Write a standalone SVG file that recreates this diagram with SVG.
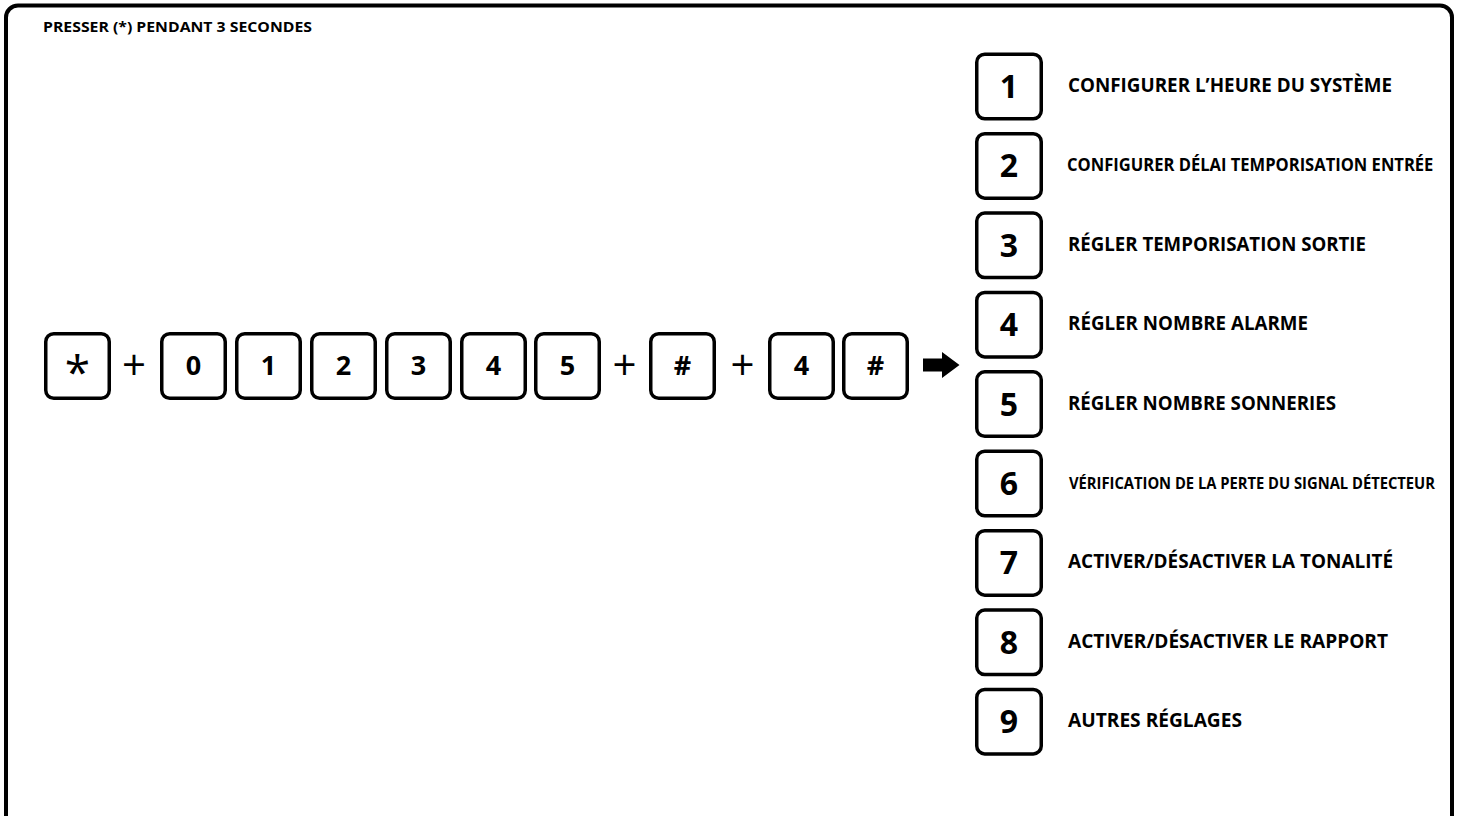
<svg xmlns="http://www.w3.org/2000/svg" width="1460" height="816" viewBox="0 0 1460 816">
<style>
.key{fill:#fff;stroke:#000;stroke-width:3.5}
.kt{font-family:"Open Sans","Liberation Sans",sans-serif;font-weight:700;font-size:27px;text-anchor:middle;fill:#000}
.kr{font-family:"Open Sans","Liberation Sans",sans-serif;font-weight:700;font-size:32px;text-anchor:middle;fill:#000}
.lb{font-family:"Open Sans","Liberation Sans",sans-serif;font-weight:700;font-size:19px;fill:#000}
.plus{font-family:"Open Sans","Liberation Sans",sans-serif;font-weight:400;font-size:42px;text-anchor:middle;fill:#000}
.title{font-family:"Open Sans","Liberation Sans",sans-serif;font-weight:700;font-size:15px;fill:#000}
</style>
<rect x="0" y="0" width="1460" height="816" fill="#fff"/>
<rect id="frame" x="6" y="5.5" width="1446" height="830" rx="12" fill="none" stroke="#000" stroke-width="4"/>
<text id="title" class="title" x="43" y="32" textLength="269" lengthAdjust="spacingAndGlyphs">PRESSER (*) PENDANT 3 SECONDES</text>

<g id="seq-star"><rect class="key" x="45.75" y="333.75" width="63.5" height="64.5" rx="8"/><text class="kt" x="77.5" y="389" style="font-size:46px;font-weight:400">*</text></g>
<g id="seq-0"><rect class="key" x="161.75" y="333.75" width="63.5" height="64.5" rx="8"/><text class="kt" x="193.5" y="375">0</text></g>
<g id="seq-1"><rect class="key" x="236.75" y="333.75" width="63.5" height="64.5" rx="8"/><text class="kt" x="268.5" y="375">1</text></g>
<g id="seq-2"><rect class="key" x="311.75" y="333.75" width="63.5" height="64.5" rx="8"/><text class="kt" x="343.5" y="375">2</text></g>
<g id="seq-3"><rect class="key" x="386.75" y="333.75" width="63.5" height="64.5" rx="8"/><text class="kt" x="418.5" y="375">3</text></g>
<g id="seq-4"><rect class="key" x="461.75" y="333.75" width="63.5" height="64.5" rx="8"/><text class="kt" x="493.5" y="375">4</text></g>
<g id="seq-5"><rect class="key" x="535.75" y="333.75" width="63.5" height="64.5" rx="8"/><text class="kt" x="567.5" y="375">5</text></g>
<g id="seq-hash1"><rect class="key" x="650.75" y="333.75" width="63.5" height="64.5" rx="8"/><text class="kt" x="682.5" y="375">#</text></g>
<g id="seq-4b"><rect class="key" x="769.75" y="333.75" width="63.5" height="64.5" rx="8"/><text class="kt" x="801.5" y="375">4</text></g>
<g id="seq-hash2"><rect class="key" x="843.75" y="333.75" width="63.5" height="64.5" rx="8"/><text class="kt" x="875.5" y="375">#</text></g>

<g id="connectors">
<text class="plus" x="134" y="380">+</text>
<text class="plus" x="624.5" y="380">+</text>
<text class="plus" x="742.5" y="380">+</text>
<path d="M923 358.5 H942 V352 L959.5 365 L942 378 V371.5 H923 Z" fill="#000"/>
</g>

<g id="opt-1"><rect class="key" x="976.75" y="54.25" width="64.5" height="64.5" rx="8"/><text class="kr" x="1009" y="98">1</text><text class="lb" x="1068" y="92" textLength="324" lengthAdjust="spacingAndGlyphs">CONFIGURER L’HEURE DU SYSTÈME</text></g>
<g id="opt-2"><rect class="key" x="976.75" y="133.65" width="64.5" height="64.5" rx="8"/><text class="kr" x="1009" y="177.4">2</text><text class="lb" transform="translate(1067 171.4) scale(0.8 1)" x="0" y="0" style="font-size:18px" textLength="458" lengthAdjust="spacingAndGlyphs">CONFIGURER DÉLAI TEMPORISATION ENTRÉE</text></g>
<g id="opt-3"><rect class="key" x="976.75" y="213.05" width="64.5" height="64.5" rx="8"/><text class="kr" x="1009" y="256.8">3</text><text class="lb" x="1068" y="250.8" textLength="298" lengthAdjust="spacingAndGlyphs">RÉGLER TEMPORISATION SORTIE</text></g>
<g id="opt-4"><rect class="key" x="976.75" y="292.45" width="64.5" height="64.5" rx="8"/><text class="kr" x="1009" y="336.2">4</text><text class="lb" x="1068" y="330.2" textLength="240" lengthAdjust="spacingAndGlyphs">RÉGLER NOMBRE ALARME</text></g>
<g id="opt-5"><rect class="key" x="976.75" y="371.85" width="64.5" height="64.5" rx="8"/><text class="kr" x="1009" y="415.6">5</text><text class="lb" x="1068" y="409.6" textLength="268" lengthAdjust="spacingAndGlyphs">RÉGLER NOMBRE SONNERIES</text></g>
<g id="opt-6"><rect class="key" x="976.75" y="451.25" width="64.5" height="64.5" rx="8"/><text class="kr" x="1009" y="495">6</text><text class="lb" transform="translate(1069 488.5) scale(0.75 1)" x="0" y="0" style="font-size:16px" textLength="488" lengthAdjust="spacingAndGlyphs">VÉRIFICATION DE LA PERTE DU SIGNAL DÉTECTEUR</text></g>
<g id="opt-7"><rect class="key" x="976.75" y="530.65" width="64.5" height="64.5" rx="8"/><text class="kr" x="1009" y="574.4">7</text><text class="lb" x="1068" y="568.4" textLength="325" lengthAdjust="spacingAndGlyphs">ACTIVER/DÉSACTIVER LA TONALITÉ</text></g>
<g id="opt-8"><rect class="key" x="976.75" y="610.05" width="64.5" height="64.5" rx="8"/><text class="kr" x="1009" y="653.8">8</text><text class="lb" x="1068" y="647.8" textLength="320" lengthAdjust="spacingAndGlyphs">ACTIVER/DÉSACTIVER LE RAPPORT</text></g>
<g id="opt-9"><rect class="key" x="976.75" y="689.45" width="64.5" height="64.5" rx="8"/><text class="kr" x="1009" y="733.2">9</text><text class="lb" x="1068" y="727.2" textLength="174" lengthAdjust="spacingAndGlyphs">AUTRES RÉGLAGES</text></g>
</svg>
